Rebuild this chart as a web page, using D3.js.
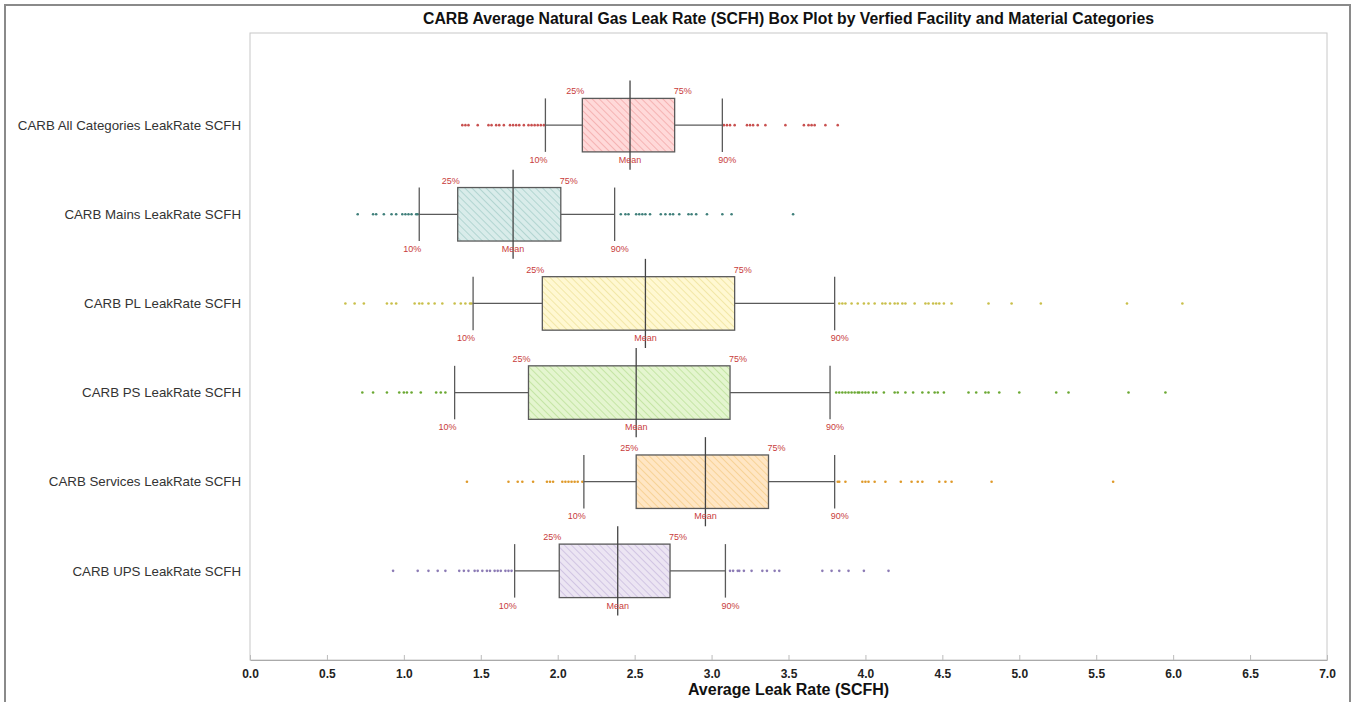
<!DOCTYPE html>
<meta charset="utf-8">
<script src="https://d3js.org/d3.v7.min.js"></script>
<style>
  body { margin: 0; background: #fff; }
  text { font-family: "Liberation Sans", Arial, sans-serif; }
</style>
<div id="chart"></div>
<script>

// categories and summary statistics
var categories = ["CARB All Categories LeakRate SCFH", "CARB Mains LeakRate SCFH", "CARB PL LeakRate SCFH",
                  "CARB PS LeakRate SCFH", "CARB Services LeakRate SCFH", "CARB UPS LeakRate SCFH"];
var p10   = [1.92, 1.10, 1.45, 1.33, 2.17, 1.72];
var q1    = [2.16, 1.35, 1.90, 1.81, 2.51, 2.01];
var means = [2.47, 1.71, 2.57, 2.51, 2.96, 2.39];
var q3    = [2.76, 2.02, 3.15, 3.12, 3.37, 2.73];
var p90   = [3.07, 2.37, 3.80, 3.77, 3.80, 3.09];

// points outside the 10%-90% whiskers
var outliers = [
  [1.38,1.40,1.42,1.48,1.55,1.57,1.60,1.62,1.65,1.69,1.71,1.73,1.75,1.78,1.81,1.83,1.85,1.87,1.89,1.91,
   3.08,3.10,3.12,3.15,3.23,3.25,3.27,3.30,3.35,3.48,3.60,3.63,3.65,3.67,3.74,3.82],
  [0.70,0.80,0.82,0.87,0.92,0.95,0.99,1.01,1.03,1.05,1.08,1.09,
   2.41,2.44,2.46,2.51,2.53,2.55,2.57,2.60,2.67,2.70,2.73,2.75,2.79,2.85,2.87,2.90,2.97,3.07,3.13,3.53],
  [0.62,0.68,0.74,0.89,0.92,0.95,1.07,1.10,1.12,1.16,1.20,1.25,1.33,1.37,1.40,1.43,1.44,
   3.83,3.85,3.87,3.91,3.95,3.99,4.02,4.06,4.11,4.13,4.16,4.19,4.21,4.24,4.26,4.32,4.39,4.41,4.44,4.46,4.48,4.51,4.56,4.80,4.95,5.14,5.70,6.06],
  [0.73,0.80,0.89,0.97,1.00,1.02,1.05,1.11,1.21,1.24,1.27,
   3.81,3.83,3.85,3.87,3.89,3.91,3.93,3.95,3.96,3.98,4.00,4.02,4.05,4.07,4.12,4.19,4.21,4.26,4.31,4.37,4.41,4.45,4.47,4.51,4.67,4.72,4.78,4.80,4.87,5.00,5.24,5.32,5.71,5.95],
  [1.41,1.68,1.74,1.77,1.84,1.93,1.95,1.97,2.03,2.05,2.07,2.09,2.11,2.13,2.16,
   3.82,3.83,3.87,3.98,4.00,4.02,4.06,4.13,4.23,4.30,4.34,4.37,4.48,4.52,4.56,4.82,5.61],
  [0.93,1.09,1.16,1.22,1.27,1.36,1.39,1.42,1.46,1.48,1.51,1.54,1.56,1.59,1.61,1.63,1.66,1.68,1.70,
   3.12,3.14,3.17,3.18,3.21,3.26,3.33,3.36,3.41,3.44,3.72,3.78,3.83,3.89,3.99,4.15]
];
var xTicks = d3.range(0, 7.01, 0.5);

// colours per category
var fills   = ["#ffd9d9", "#d9ecea", "#fff8d2", "#e4f5cf", "#ffe6c4", "#ece5f3"];
var hatches = ["#f3a9a9", "#a8cfcb", "#efe39c", "#bde29a", "#f6cd8c", "#cbbde0"];
var dots    = ["#c8504f", "#3f7f7a", "#c9bf4a", "#6aa832", "#df9a2a", "#8c7bb5"];

var W = 1354, H = 702;
var margin = {top: 33, right: 27, bottom: 42, left: 250},
    width = W - margin.left - margin.right,
    height = H - margin.top - margin.bottom;

var svg = d3.select("#chart").append("svg")
    .attr("width", W).attr("height", H);

// outer frame
svg.append("rect").attr("x", 5).attr("y", 5).attr("width", 1345).attr("height", 710)
  .attr("fill", "none").attr("stroke", "#8a8a8a").attr("stroke-width", 2);

// hatch patterns
var defs = svg.append("defs");
fills.forEach(function(f, i) {
  var p = defs.append("pattern").attr("id", "hatch" + i)
    .attr("patternUnits", "userSpaceOnUse").attr("width", 5).attr("height", 5)
    .attr("patternTransform", "rotate(-45)");
  p.append("rect").attr("width", 5).attr("height", 5).attr("fill", f);
  p.append("line").attr("x1", 0).attr("y1", 0).attr("x2", 0).attr("y2", 5)
    .attr("stroke", hatches[i]).attr("stroke-width", 1.6);
});

var g = svg.append("g").attr("transform", "translate(" + margin.left + "," + margin.top + ")");

var x = d3.scaleLinear().domain([0, 7]).range([0, width]);
var y = d3.scalePoint().domain(categories).range([3, height]).padding(1);
var step = y.step();
var boxH = step * 0.6;

// plot frame
g.append("rect").attr("width", width).attr("height", height)
  .attr("fill", "none").attr("stroke", "#c8c8c8").attr("stroke-width", 1);

// x axis
var xAxis = g.append("g").attr("transform", "translate(0," + height + ")")
  .call(d3.axisBottom(x).tickValues(xTicks).tickFormat(d3.format(".1f"))
        .tickSizeInner(-5).tickSizeOuter(0).tickPadding(9));
xAxis.select(".domain").attr("stroke", "#aaa");
xAxis.selectAll(".tick line").attr("stroke", "#bbb");
xAxis.selectAll("text").attr("font-size", 12).attr("font-weight", "bold")
  .attr("fill", "#222").attr("font-family", "Liberation Sans, Arial, sans-serif");

// category labels
g.selectAll(".cat").data(categories).enter().append("text")
  .attr("x", -9).attr("y", function(d) { return y(d); })
  .attr("dy", "0.35em").attr("text-anchor", "end")
  .attr("font-size", 13.3).attr("fill", "#333").text(function(d) { return d; });

var rows = g.selectAll(".row").data(categories).enter().append("g")
  .attr("transform", function(d) { return "translate(0," + y(d) + ")"; });

var lineCol = "#5a5a5a";

// outlier points
rows.each(function(d, i) {
  d3.select(this).selectAll("circle").data(outliers[i]).enter().append("circle")
    .attr("cx", function(v) { return x(v); }).attr("cy", 0).attr("r", 1.3)
    .attr("fill", dots[i]);
});

// whiskers
rows.append("line")
  .attr("x1", function(d, i) { return x(p10[i]); }).attr("x2", function(d, i) { return x(q1[i]); })
  .attr("stroke", lineCol).attr("stroke-width", 1.3);
rows.append("line")
  .attr("x1", function(d, i) { return x(q3[i]); }).attr("x2", function(d, i) { return x(p90[i]); })
  .attr("stroke", lineCol).attr("stroke-width", 1.3);
[p10, p90].forEach(function(arr) {
  rows.append("line")
    .attr("x1", function(d, i) { return x(arr[i]); }).attr("x2", function(d, i) { return x(arr[i]); })
    .attr("y1", -boxH / 2).attr("y2", boxH / 2)
    .attr("stroke", lineCol).attr("stroke-width", 1.3);
});

// boxes
rows.append("rect")
  .attr("x", function(d, i) { return x(q1[i]); })
  .attr("width", function(d, i) { return x(q3[i]) - x(q1[i]); })
  .attr("y", -boxH / 2).attr("height", boxH)
  .attr("fill", function(d, i) { return "url(#hatch" + i + ")"; })
  .attr("stroke", lineCol).attr("stroke-width", 1.3);

// mean line
rows.append("line")
  .attr("x1", function(d, i) { return x(means[i]); }).attr("x2", function(d, i) { return x(means[i]); })
  .attr("y1", -step / 2).attr("y2", step / 2)
  .attr("stroke", "#444").attr("stroke-width", 1.3);

// percentile labels
var labCol = "#c83c3c";
function addLabel(arr, txt, dx, top) {
  rows.append("text")
    .attr("x", function(d, i) { return x(arr[i]) + dx; })
    .attr("y", top ? -boxH / 2 - 4 : boxH / 2 + 11)
    .attr("text-anchor", "middle").attr("font-size", 9).attr("fill", labCol)
    .text(txt);
}
addLabel(q1, "25%", -7, true);
addLabel(q3, "75%", 8, true);
addLabel(p10, "10%", -7, false);
addLabel(means, "Mean", 0, false);
addLabel(p90, "90%", 5, false);

// titles
svg.append("text").attr("x", margin.left + width / 2).attr("y", 24)
  .attr("text-anchor", "middle").attr("font-size", 15.8).attr("font-weight", "bold").attr("fill", "#111")
  .text("CARB Average Natural Gas Leak Rate (SCFH) Box Plot by Verfied Facility and Material Categories");
svg.append("text").attr("x", margin.left + width / 2).attr("y", 695)
  .attr("text-anchor", "middle").attr("font-size", 16).attr("font-weight", "bold").attr("fill", "#111")
  .text("Average Leak Rate (SCFH)");

</script>
